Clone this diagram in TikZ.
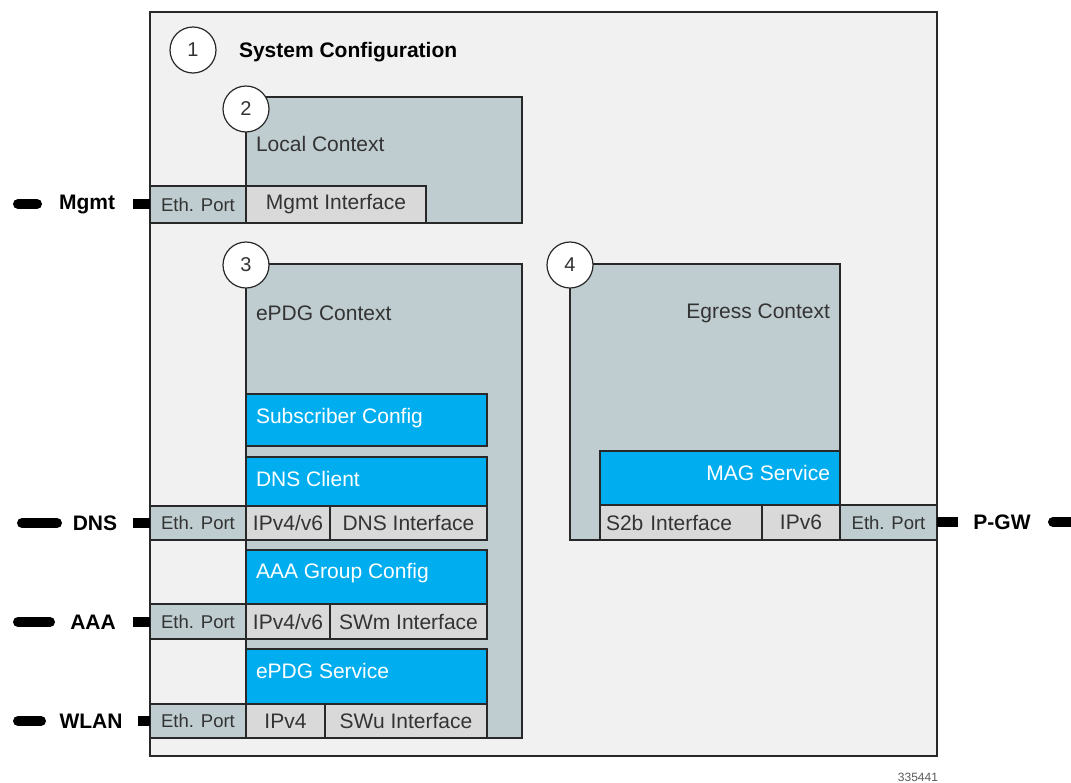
\documentclass[tikz,border=0pt]{standalone}
\usepackage{fontspec}
\setmainfont{Liberation Sans}
\definecolor{outerfill}{RGB}{241,241,241}
\definecolor{ctxfill}{RGB}{191,205,208}
\definecolor{svcblue}{RGB}{0,174,239}
\definecolor{cellfill}{RGB}{217,217,217}
\definecolor{edge}{RGB}{40,40,40}
\definecolor{txtgray}{RGB}{51,51,51}
\newcommand\mytxt{\fontsize{21}{24}\selectfont}
\newcommand\porttxt{\fontsize{18.5}{21}\selectfont}
\begin{document}
\begin{tikzpicture}[x=1pt,y=-1pt,
  every node/.style={inner sep=0pt, outer sep=0pt},
  boxbase/.style={draw=edge, line width=1.4pt, anchor=north west, font=\mytxt, text=txtgray},
  ctxbox/.style={boxbase, fill=ctxfill},
  svcbox/.style={boxbase, fill=svcblue},
  ifcell/.style={boxbase, fill=cellfill},
  portcell/.style={boxbase, fill=ctxfill, font=\porttxt},
  numcirc/.style={circle, draw=edge, line width=1.2pt, fill=white, minimum size=46pt, font=\fontsize{20}{24}\selectfont, text=txtgray},
  ctxlabel/.style={font=\mytxt, text=txtgray},
  svclabel/.style={font=\mytxt, text=white},
  extlabel/.style={font=\mytxt\bfseries, text=black},
  barL/.style={line width=10pt, line cap=round, black},
  barR/.style={line width=10pt, black}
]
\useasboundingbox (0,0) rectangle (1071,782);
\fill[white] (0,0) rectangle (1071,782);

% outer system configuration
\node[boxbase, fill=outerfill, minimum width=787pt, minimum height=744pt] (sys) at (150,12) {};

% contexts
\node[ctxbox, minimum width=276pt, minimum height=126pt] (local) at (246,97) {};
\node[ctxbox, minimum width=276pt, minimum height=474pt] (epdg) at (246,264) {};
\node[ctxbox, minimum width=270pt, minimum height=276pt] (egress) at (570,264) {};

% local context cells
\node[portcell, minimum width=96pt, minimum height=37pt] (ethM) at (150,186) {Eth. Port};
\node[ifcell, minimum width=180pt, minimum height=37pt] (mgmtIf) at (246,186) {Mgmt Interface};

% ePDG context services
\node[svcbox, minimum width=241pt, minimum height=52pt] (subcfg) at (246,394) {};
\node[svcbox, minimum width=241pt, minimum height=49pt] (dnscl) at (246,457) {};
\node[svcbox, minimum width=241pt, minimum height=54pt] (aaacfg) at (246,550) {};
\node[svcbox, minimum width=241pt, minimum height=55pt] (epdgsvc) at (246,649) {};

% DNS row
\node[portcell, minimum width=96pt, minimum height=34pt] (ethD) at (150,506) {Eth. Port};
\node[ifcell, minimum width=84pt, minimum height=34pt] (ipD) at (246,506) {IPv4/v6};
\node[ifcell, minimum width=157pt, minimum height=34pt] (dnsIf) at (330,506) {DNS Interface};

% AAA row
\node[portcell, minimum width=96pt, minimum height=35pt] (ethA) at (150,604) {Eth. Port};
\node[ifcell, minimum width=84pt, minimum height=35pt] (ipA) at (246,604) {IPv4/v6};
\node[ifcell, minimum width=157pt, minimum height=35pt] (swmIf) at (330,604) {SWm Interface};

% WLAN row
\node[portcell, minimum width=96pt, minimum height=34pt] (ethW) at (150,704) {Eth. Port};
\node[ifcell, minimum width=79pt, minimum height=34pt] (ipW) at (246,704) {IPv4};
\node[ifcell, minimum width=162pt, minimum height=34pt] (swuIf) at (325,704) {SWu Interface};

% Egress context
\node[svcbox, minimum width=240pt, minimum height=54pt] (mag) at (600,451) {};
\node[ifcell, minimum width=162pt, minimum height=35pt, text width=150pt, align=left] (s2bIf) at (600,505) {S2b Interface};
\node[ifcell, minimum width=78pt, minimum height=35pt] (ip6) at (762,505) {IPv6};
\node[portcell, minimum width=97pt, minimum height=35pt] (ethP) at (840,505) {Eth. Port};

% texts
\node[font=\mytxt\bfseries, text=black, anchor=west] (systxt) at (239,52) {System Configuration};
\node[ctxlabel, anchor=west] (localtxt) at (256,144) {Local Context};
\node[ctxlabel, anchor=west] (epdgtxt) at (256,313) {ePDG Context};
\node[ctxlabel, anchor=east] (egresstxt) at (830,313) {Egress Context};
\node[svclabel, anchor=west] (subtxt) at (256,418) {Subscriber Config};
\node[svclabel, anchor=west] (dnstxt) at (256,479) {DNS Client};
\node[svclabel, anchor=west] (aaatxt) at (256,573) {AAA Group Config};
\node[svclabel, anchor=west] (epdgsvctxt) at (256,671) {ePDG Service};
\node[svclabel, anchor=east] (magtxt) at (830,473) {MAG Service};

% numbered circles
\node[numcirc] (c1) at (193,50) {1};
\node[numcirc] (c2) at (246,109) {2};
\node[numcirc] (c3) at (246,265) {3};
\node[numcirc] (c4) at (570,265) {4};

% external labels
\node[extlabel] (mgmtL) at (87,204) {Mgmt};
\node[extlabel] (dnsL) at (95,523) {DNS};
\node[extlabel] (aaaL) at (93,622) {AAA};
\node[extlabel] (wlanL) at (91,721) {WLAN};
\node[extlabel] (pgwL) at (1002,522) {P-GW};

% connector bars
\coordinate (mgmtA) at (18,204);
\coordinate (mgmtB) at (37,204);
\coordinate (mgmtC) at (133,204);
\draw[barL] (mgmtA) -- (mgmtB);
\draw[barR] (mgmtC) -- (ethM.west |- mgmtC);

\coordinate (dnsA) at (22,523);
\coordinate (dnsB) at (57,523);
\coordinate (dnsC) at (133,523);
\draw[barL] (dnsA) -- (dnsB);
\draw[barR] (dnsC) -- (ethD.west |- dnsC);

\coordinate (aaaA) at (18,622);
\coordinate (aaaB) at (50,622);
\coordinate (aaaC) at (133,622);
\draw[barL] (aaaA) -- (aaaB);
\draw[barR] (aaaC) -- (ethA.west |- aaaC);

\coordinate (wlanA) at (18,721);
\coordinate (wlanB) at (41,721);
\coordinate (wlanC) at (138,721);
\draw[barL] (wlanA) -- (wlanB);
\draw[barR] (wlanC) -- (ethW.west |- wlanC);

\coordinate (pgwA) at (958,522);
\coordinate (pgwB) at (1053,522);
\coordinate (pgwC) at (1071,522);
\draw[barR] (ethP.east |- pgwA) -- (pgwA);
\draw[barL] (pgwB) -- (pgwC);

% figure number
\node[anchor=east, font=\fontsize{12}{14}\selectfont, text=black!65] (fignum) at (938,777) {335441};
\end{tikzpicture}
\end{document}
